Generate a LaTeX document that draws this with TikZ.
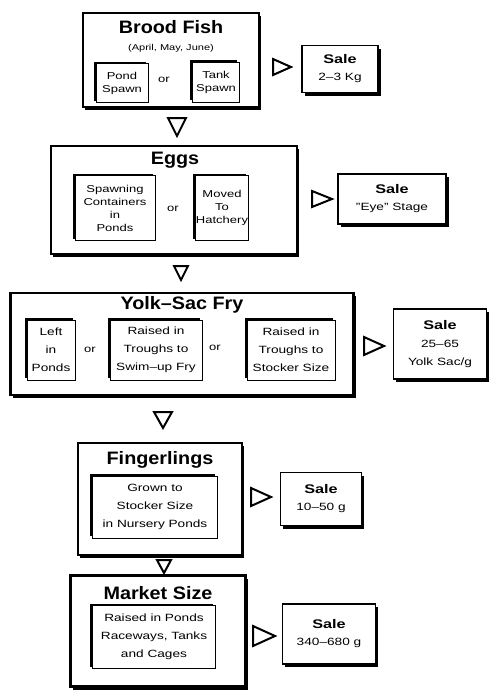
\documentclass[tikz,border=0pt]{standalone}
\usepackage{fontspec}
\setmainfont{Liberation Sans}[Ligatures=TeX]
\newfontfamily\bodyf{Liberation Sans}[FakeStretch=1.3,Ligatures=TeX]
\newfontfamily\titlef{Liberation Sans}[FakeStretch=1.1,Ligatures=TeX]
\usetikzlibrary{shadows}
\tikzset{
  outerbox/.style={draw, line width=2.2pt, fill=white, inner sep=0pt,
    drop shadow={shadow xshift=2pt, shadow yshift=-3pt, fill=black, opacity=1}},
  innerbox/.style={draw, line width=1pt, fill=white, inner sep=0pt, align=center,
    drop shadow={shadow xshift=-2.5pt, shadow yshift=2pt, fill=black, opacity=1}},
  salebox/.style={draw, line width=1.5pt, fill=white, inner sep=0pt, align=center,
    drop shadow={shadow xshift=2.5pt, shadow yshift=-3pt, fill=black, opacity=1}},
  titletext/.style={font=\titlef\bfseries\fontsize{18}{20}\selectfont},
  smalltext/.style={font=\bodyf\fontsize{10}{13}\selectfont},
  widetext/.style={font=\bodyf\fontsize{10.5}{18}\selectfont},
  saletext/.style={font=\bodyf\fontsize{10.5}{17}\selectfont},
  ortext/.style={font=\bodyf\fontsize{10}{12}\selectfont},
  tri/.style={draw, line width=2pt, fill=white, line join=miter},
}
\newcommand{\salehead}{{\fontsize{12.5}{14}\selectfont\bfseries Sale}}
\begin{document}
\begin{tikzpicture}[x=1pt, y=-1pt]
\useasboundingbox[fill=white] (0,0) rectangle (494,691);

% ---------- Brood Fish ----------
\node[outerbox, minimum width=176pt, minimum height=94pt] (brood) at (171,60) {};
\node[titletext] (broodt) at (171,27) {Brood Fish};
\node[font=\bodyf\fontsize{8.5}{10}\selectfont] (broodm) at (171,48) {(April, May, June)};
\node[innerbox, smalltext, minimum width=52pt, minimum height=39pt] (pond) at (122,83) {Pond\\Spawn};
\node[ortext] (or1) at (164,80) {or};
\node[innerbox, smalltext, minimum width=47pt, minimum height=40pt] (tank) at (216,82) {Tank\\Spawn};
\coordinate (r1) at (282,67);
\draw[tri, shift={(r1)}] (-9,-8) -- (9,0) -- (-9,8) -- cycle;
\node[salebox, saletext, minimum width=76pt, minimum height=47pt] (sale1) at (340,69) {\salehead\\2–3 Kg};
\coordinate (d1) at (177,127);
\draw[tri, shift={(d1)}] (-9,-9) -- (9,-9) -- (0,9) -- cycle;

% ---------- Eggs ----------
\node[outerbox, minimum width=246pt, minimum height=108pt] (eggs) at (174,200) {};
\node[titletext] (eggst) at (175,160) {Eggs};
\node[innerbox, smalltext, minimum width=80pt, minimum height=65pt] (spawncont) at (115,208) {Spawning\\Containers\\in\\Ponds};
\node[ortext] (or2) at (173,209) {or};
\node[innerbox, smalltext, minimum width=45pt, minimum height=65pt] (moved) at (222,208) {Moved\\To\\Hatchery};
\coordinate (r2) at (322,199);
\draw[tri, shift={(r2)}] (-10,-8) -- (10,0) -- (-10,8) -- cycle;
\node[salebox, saletext, minimum width=108pt, minimum height=50pt] (sale2) at (392,199) {\salehead\\"Eye" Stage};
\coordinate (d2) at (181,273);
\draw[tri, shift={(d2)}] (-7,-7) -- (7,-7) -- (0,7) -- cycle;

% ---------- Yolk-Sac Fry ----------
\node[outerbox, minimum width=343pt, minimum height=102pt] (yolk) at (182,344) {};
\node[titletext] (yolkt) at (182,305) {Yolk–Sac Fry};
\node[innerbox, widetext, minimum width=48pt, minimum height=60pt] (left) at (51,350) {Left\\in\\Ponds};
\node[ortext] (or3) at (90,350) {or};
\node[innerbox, widetext, minimum width=92pt, minimum height=60pt] (swim) at (156,350) {Raised in\\Troughs to\\Swim–up Fry};
\node[ortext] (or4) at (215,348) {or};
\node[innerbox, widetext, minimum width=88pt, minimum height=60pt] (stocker) at (291,350) {Raised in\\Troughs to\\Stocker Size};
\coordinate (r3) at (374,346);
\draw[tri, shift={(r3)}] (-10,-9) -- (10,0) -- (-10,9) -- cycle;
\node[salebox, widetext, minimum width=93pt, minimum height=70pt] (sale3) at (440,344) {\salehead\\25–65\\Yolk Sac/g};
\coordinate (d3) at (163,420);
\draw[tri, shift={(d3)}] (-9,-8) -- (9,-8) -- (0,8) -- cycle;

% ---------- Fingerlings ----------
\node[outerbox, minimum width=164pt, minimum height=112pt] (finger) at (160,499) {};
\node[titletext] (fingert) at (160,460) {Fingerlings};
\node[innerbox, widetext, minimum width=125pt, minimum height=62pt] (grown) at (155,507) {Grown to\\Stocker Size\\in Nursery Ponds};
\coordinate (r4) at (261,497);
\draw[tri, shift={(r4)}] (-10,-9) -- (10,0) -- (-10,9) -- cycle;
\node[salebox, saletext, minimum width=81pt, minimum height=53pt] (sale4) at (321,499) {\salehead\\10–50 g};
\coordinate (d4) at (164,566);
\draw[tri, shift={(d4)}] (-7,-6) -- (7,-6) -- (0,7) -- cycle;

% ---------- Market Size ----------
\node[outerbox, minimum width=175pt, minimum height=111pt] (market) at (158,631) {};
\node[titletext] (markett) at (158,593) {Market Size};
\node[innerbox, widetext, minimum width=123pt, minimum height=63pt] (raised) at (154,637) {Raised in Ponds\\Raceways, Tanks\\and Cages};
\coordinate (r5) at (264,636);
\draw[tri, shift={(r5)}] (-11,-10) -- (11,0) -- (-11,10) -- cycle;
\node[salebox, saletext, minimum width=93pt, minimum height=60pt] (sale5) at (329,634) {\salehead\\340–680 g};
\end{tikzpicture}
\end{document}
